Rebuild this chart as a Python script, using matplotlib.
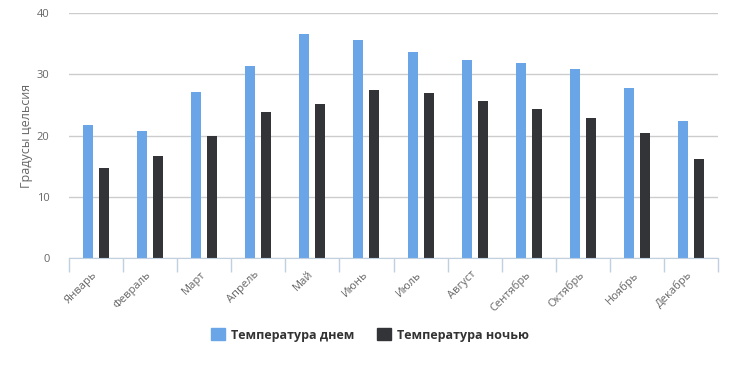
import numpy as np
import matplotlib
matplotlib.use('Agg')
import matplotlib.pyplot as plt
from matplotlib.patches import Patch

# Данные
месяцы = ['Январь', 'Февраль', 'Март', 'Апрель', 'Май', 'Июнь',
          'Июль', 'Август', 'Сентябрь', 'Октябрь', 'Ноябрь', 'Декабрь']
темп_день = [21.7, 20.7, 27.1, 31.3, 36.5, 35.6, 33.6, 32.3, 31.8, 30.8, 27.7, 22.3]
темп_ночь = [14.7, 16.6, 19.9, 23.8, 25.1, 27.4, 26.9, 25.6, 24.3, 22.8, 20.4, 16.2]

ДЕНЬ = '#6aa5e7'
НОЧЬ = '#333438'
СЕТКА = '#cccccc'
ОСЬ = '#c0d0e0'
ТЕКСТ = '#666666'

plt.rcParams['font.family'] = ['Open Sans', 'DejaVu Sans']

fig = plt.figure(figsize=(7.46, 3.81), dpi=100, facecolor='white')
ax = fig.add_axes([69 / 746, 1 - 258 / 381, 649 / 746, 245 / 381])

x = np.arange(len(месяцы))
w = 0.185
ax.bar(x - 0.148, темп_день, width=w, color=ДЕНЬ, zorder=3)
ax.bar(x + 0.148, темп_ночь, width=w, color=НОЧЬ, zorder=3)

ax.set_xlim(-0.5, len(месяцы) - 0.5)
ax.set_ylim(0, 40)
ax.set_yticks([0, 10, 20, 30, 40])
ax.yaxis.grid(True, color=СЕТКА, linewidth=1, zorder=0)
ax.tick_params(axis='y', length=0, labelsize=8, labelcolor=ТЕКСТ, pad=14)

for s in ['top', 'right', 'left']:
    ax.spines[s].set_visible(False)
ax.spines['bottom'].set_color(ОСЬ)
ax.spines['bottom'].set_zorder(4)

# тики на границах категорий
ax.set_xticks(np.arange(-0.5, len(месяцы) + 0.5, 1.0))
ax.set_xticklabels([])
ax.tick_params(axis='x', length=10, color=ОСЬ, width=1)
ax.set_xticks(x - 0.08, minor=True)
ax.set_xticklabels(месяцы, minor=True, rotation=45, ha='right',
                   rotation_mode='anchor', fontsize=8, color=ТЕКСТ)
ax.tick_params(axis='x', which='minor', length=0, pad=8)

ax.set_ylabel('Градусы цельсия', fontsize=9, color=ТЕКСТ, labelpad=0)
ax.yaxis.set_label_coords(-36 / 649, 0.5)

handles = [Patch(color=ДЕНЬ, label='Температура днем'),
           Patch(color=НОЧЬ, label='Температура ночью')]
fig.legend(handles=handles, loc='center', bbox_to_anchor=(370 / 746, 1 - 335 / 381),
           ncol=2, frameon=False, handlelength=1.1, handleheight=1.1,
           columnspacing=1.8, handletextpad=0.5,
           prop={'weight': 'bold', 'size': 9})
for t in fig.legends[0].get_texts():
    t.set_color('#333333')

fig.savefig('out.png', dpi=100, facecolor='white')
